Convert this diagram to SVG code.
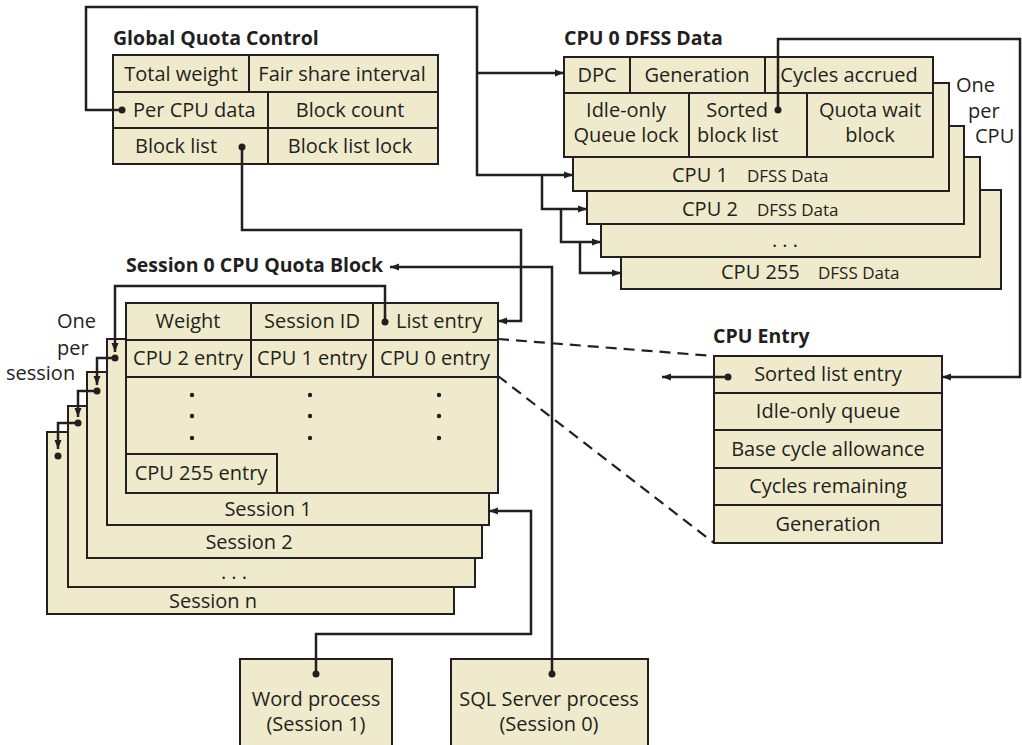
<svg xmlns="http://www.w3.org/2000/svg" width="1022" height="745" viewBox="0 0 1022 745">
<defs>
<marker id="ah" markerUnits="userSpaceOnUse" markerWidth="10" markerHeight="8" refX="9" refY="4" orient="auto"><path d="M0,0.5 L9,4 L0,7.5 z" fill="#231F20"/></marker>
<style>
.box{fill:#EEEACB;stroke:#231F20;stroke-width:2}
.div{fill:none;stroke:#231F20;stroke-width:2}
.ln{fill:none;stroke:#231F20;stroke-width:2.5;marker-end:url(#ah)}
.dash{fill:none;stroke:#231F20;stroke-width:2.2;stroke-dasharray:11 7}
.dot{fill:#231F20}
text{font-family:"Open Sans","Noto Sans",sans-serif;fill:#231F20;font-size:20px}
.t{font-weight:bold;font-size:19.5px}
.c{text-anchor:middle}
.e{text-anchor:end}
.s{font-size:17px}
</style>
</defs>
<rect width="1022" height="745" fill="#FFFFFF"/>

<g id="global-quota-control">
<text class="t" x="113" y="45">Global Quota Control</text>
<rect class="box" x="113" y="55" width="325" height="109"/>
<path class="div" d="M113,92H438M113,128H438M249,55V92M268,92V164"/>
<text class="c" x="181" y="81">Total weight</text>
<text class="c" x="342" y="81">Fair share interval</text>
<text x="133" y="117">Per CPU data</text>
<text class="c" x="350" y="117">Block count</text>
<text class="c" x="176" y="153">Block list</text>
<text class="c" x="350" y="153">Block list lock</text>
</g>

<g id="cpu-dfss-stack">
<rect class="box" x="621" y="190" width="380" height="99"/>
<text x="721" y="279">CPU 255<tspan class="s" x="818">DFSS Data</tspan></text>
<rect class="box" x="601" y="157" width="379" height="100"/>
<text class="c" x="785" y="247">. . .</text>
<rect class="box" x="587" y="126" width="377" height="98"/>
<text x="682" y="216">CPU 2<tspan class="s" x="757">DFSS Data</tspan></text>
<rect class="box" x="573" y="83" width="376" height="108"/>
<text x="672" y="182">CPU 1<tspan class="s" x="747">DFSS Data</tspan></text>
<text x="956" y="92">One</text>
<text x="968" y="118">per</text>
<text x="975" y="143">CPU</text>
</g>

<g id="cpu0-dfss-data">
<text class="t" x="564" y="45">CPU 0 DFSS Data</text>
<rect class="box" x="564" y="57" width="369" height="100"/>
<path class="div" d="M564,93H933M630,57V93M765,57V93M689,93V157M807,93V157"/>
<text class="c" x="597" y="82">DPC</text>
<text class="c" x="697" y="82">Generation</text>
<text class="c" x="849" y="82">Cycles accrued</text>
<text class="c" x="626" y="117">Idle-only</text>
<text class="c" x="626" y="142">Queue lock</text>
<text class="e" x="768" y="117">Sorted</text>
<text x="697" y="142">block list</text>
<text class="c" x="870" y="117">Quota wait</text>
<text class="c" x="870" y="142">block</text>
</g>

<g id="session-stack">
<rect class="box" x="47" y="432" width="407" height="182"/>
<text class="c" x="213" y="608">Session n</text>
<rect class="box" x="68" y="406" width="407" height="181"/>
<text class="c" x="234" y="579">. . .</text>
<rect class="box" x="87" y="372" width="395" height="186"/>
<text class="c" x="249" y="549">Session 2</text>
<rect class="box" x="107" y="339" width="382" height="186"/>
<text class="c" x="268" y="516">Session 1</text>
<text x="57" y="328">One</text>
<text x="57" y="355">per</text>
<text x="6" y="380">session</text>
</g>

<g id="session0-cpu-quota-block">
<text class="t" x="126" y="272">Session 0 CPU Quota Block</text>
<rect class="box" x="126" y="303" width="372" height="190"/>
<path class="div" d="M126,340H498M126,377H498M251,303V377M373,303V377"/>
<text class="c" x="188" y="328">Weight</text>
<text class="c" x="312" y="328">Session ID</text>
<text x="396" y="328">List entry</text>
<text class="c" x="188" y="365">CPU 2 entry</text>
<text class="c" x="312" y="365">CPU 1 entry</text>
<text class="c" x="435" y="365">CPU 0 entry</text>
<g class="dot">
<circle cx="192" cy="395" r="2.2"/><circle cx="192" cy="416" r="2.2"/><circle cx="192" cy="438" r="2.2"/>
<circle cx="310" cy="395" r="2.2"/><circle cx="310" cy="416" r="2.2"/><circle cx="310" cy="438" r="2.2"/>
<circle cx="439" cy="395" r="2.2"/><circle cx="439" cy="416" r="2.2"/><circle cx="439" cy="438" r="2.2"/>
</g>
<rect class="box" x="126" y="454" width="151" height="39"/>
<text class="c" x="201" y="480">CPU 255 entry</text>
</g>

<g id="cpu-entry">
<text class="t" x="713" y="343">CPU Entry</text>
<rect class="box" x="714" y="356" width="228" height="187"/>
<path class="div" d="M714,393H942M714,430H942M714,468H942M714,505H942"/>
<text class="c" x="828" y="381">Sorted list entry</text>
<text class="c" x="828" y="418">Idle-only queue</text>
<text class="c" x="828" y="456">Base cycle allowance</text>
<text class="c" x="828" y="493">Cycles remaining</text>
<text class="c" x="828" y="531">Generation</text>
</g>

<g id="word-process">
<rect class="box" x="240" y="659" width="152" height="100"/>
<text class="c" x="316" y="706">Word process</text>
<text class="c" x="316" y="731">(Session 1)</text>
</g>

<g id="sql-server-process">
<rect class="box" x="451" y="659" width="197" height="100"/>
<text class="c" x="549" y="706">SQL Server process</text>
<text class="c" x="549" y="731">(Session 0)</text>
</g>

<g id="connectors">
<path class="ln" d="M122,110H86V7H477V175H573"/>
<path class="ln" d="M477,73H564"/>
<path class="ln" d="M542,175V209H587"/>
<path class="ln" d="M561,209V242H601"/>
<path class="ln" d="M580,242V273H621"/>
<path class="ln" d="M242,147V230H521V321H498"/>
<path class="ln" d="M385,322V286H115V352"/>
<path class="ln" d="M115,358H97V385"/>
<path class="ln" d="M97,391H78V417"/>
<path class="ln" d="M78,423H58V449"/>
<path class="ln" d="M778,110V39H1020V377H942"/>
<path class="ln" d="M728,377H662"/>
<path class="ln" d="M316,674V634H531V511H489"/>
<path class="ln" d="M552,674V267H390"/>
<path class="dash" d="M498,339L714,356"/>
<path class="dash" d="M498,376L714,543"/>
<g class="dot">
<circle cx="122" cy="110" r="3.5"/><circle cx="242" cy="147" r="3.5"/><circle cx="385" cy="322" r="3.5"/>
<circle cx="115" cy="358" r="3.5"/><circle cx="97" cy="391" r="3.5"/><circle cx="78" cy="423" r="3.5"/><circle cx="58" cy="456" r="3.5"/>
<circle cx="778" cy="110" r="3.5"/><circle cx="728" cy="377" r="3.5"/><circle cx="316" cy="674" r="3.5"/><circle cx="552" cy="674" r="3.5"/>
</g>
</g>
</svg>
